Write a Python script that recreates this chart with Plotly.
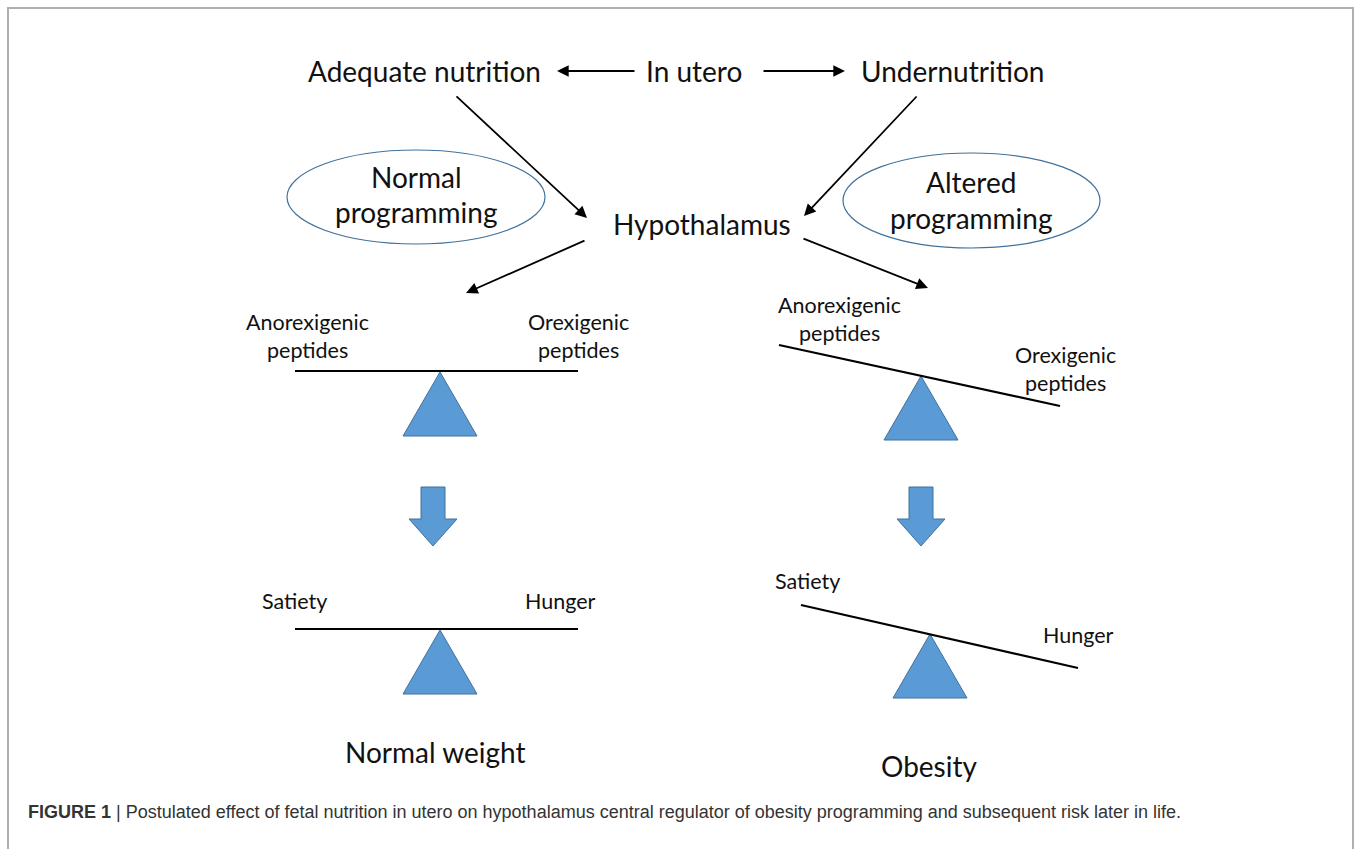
import plotly.graph_objects as go

# ---- content ----
top_labels = ["Adequate nutrition", "In utero", "Undernutrition"]
center_label = "Hypothalamus"
programming_labels = [["Normal", "programming"], ["Altered", "programming"]]
peptide_labels = [["Anorexigenic", "peptides"], ["Orexigenic", "peptides"]]
feeling_labels = ["Satiety", "Hunger"]
outcome_labels = ["Normal weight", "Obesity"]
caption_bold = "FIGURE 1"
caption_text = " | Postulated effect of fetal nutrition in utero on hypothalamus central regulator of obesity programming and subsequent risk later in life."

# ---- layout geometry (pixel canvas) ----
W, H = 1356, 849
pos_top = [(424, 71), (694, 71), (952, 71)]
pos_center = (702, 224)
pos_ellipse = [(287, 150, 545, 244), (843, 153, 1100, 248)]
pos_prog = [[(416, 177), (416, 212)], [(971, 182), (971, 218)]]
# beams: (x0,y0,x1,y1), fulcrum apex
beams_upper = [((295, 371, 578, 371), (440, 372)), ((779, 345, 1060, 406), (921, 376))]
beams_lower = [((295, 629, 578, 629), (440, 630)), ((801, 605, 1078, 668), (930, 634))]
peptide_pos = [[[(307, 322), (307, 350)], [(578, 322), (578, 350)]],
               [[(839, 305), (839, 333)], [(1065, 355), (1065, 383)]]]
feeling_pos = [[(294, 601), (560, 601)], [(807, 581), (1078, 635)]]
outcome_pos = [(435, 752), (929, 766)]
down_arrows_x = [433, 921]

BLUE = "#5b9bd5"
BLUE_EDGE = "#41719c"
FONT = "Lato"
BIG = 28
SMALL = 21.5

fig = go.Figure()
shapes = []
ann = []

def text(x, y, s, size, **kw):
    ann.append(dict(x=x, y=y, text=s, showarrow=False, xref="x", yref="y",
                    font=dict(family=FONT, size=size, color="#111"), **kw))

def arrow(x0, y0, x1, y1):
    ann.append(dict(x=x1, y=y1, ax=x0, ay=y0, xref="x", yref="y", axref="x", ayref="y",
                    text="", showarrow=True, arrowhead=2, arrowsize=1.3, arrowwidth=1.8,
                    arrowcolor="#000", standoff=0, startstandoff=0))

# border
shapes.append(dict(type="rect", x0=8, y0=8, x1=1353, y1=900, line=dict(color="#b0b0b0", width=2)))

# top row
for (x, y), s in zip(pos_top, top_labels):
    text(x, y, s, BIG)
arrow(636, 71, 557, 71)
arrow(762, 71, 845, 71)
arrow(455, 95, 587, 218)
arrow(918, 95, 804, 216)
text(*pos_center, center_label, BIG)
arrow(586, 240, 466, 293)
arrow(802, 238, 928, 288)

# ellipses
for (x0, y0, x1, y1), ps, ss in zip(pos_ellipse, pos_prog, programming_labels):
    shapes.append(dict(type="circle", x0=x0, y0=y0, x1=x1, y1=y1, line=dict(color=BLUE_EDGE, width=1.2)))
    for (px, py), s in zip(ps, ss):
        text(px, py, s, BIG)

def beam(b):
    (x0, y0, x1, y1), (ax_, ay_) = b
    shapes.append(dict(type="line", x0=x0, y0=y0, x1=x1, y1=y1, line=dict(color="#000", width=2.2)))
    fig.add_trace(go.Scatter(x=[ax_, ax_ - 37, ax_ + 37, ax_], y=[ay_, ay_ + 64, ay_ + 64, ay_],
                             fill="toself", fillcolor=BLUE, mode="lines",
                             line=dict(color=BLUE_EDGE, width=1), hoverinfo="skip", showlegend=False))

for b in beams_upper + beams_lower:
    beam(b)

for side in range(2):
    for group, ss in zip(peptide_pos[side], peptide_labels):
        for (x, y), s in zip(group, ss):
            text(x, y, s, SMALL)
    for (x, y), s in zip(feeling_pos[side], feeling_labels):
        text(x, y, s, SMALL)
    text(*outcome_pos[side], outcome_labels[side], BIG)
    cx = down_arrows_x[side]
    fig.add_trace(go.Scatter(
        x=[cx - 12, cx + 12, cx + 12, cx + 24, cx, cx - 24, cx - 12, cx - 12],
        y=[487, 487, 519, 519, 546, 519, 519, 487],
        fill="toself", fillcolor=BLUE, mode="lines",
        line=dict(color=BLUE_EDGE, width=1), hoverinfo="skip", showlegend=False))

# caption
ann.append(dict(x=26, y=812, xanchor="left", showarrow=False, xref="x", yref="y",
                text="<b>" + caption_bold + "</b>" + caption_text,
                font=dict(family="Liberation Sans, Arial", size=18, color="#333")))

fig.update_layout(
    width=W, height=H, margin=dict(l=0, r=0, t=0, b=0),
    paper_bgcolor="white", plot_bgcolor="white",
    xaxis=dict(range=[0, W], visible=False, fixedrange=True),
    yaxis=dict(range=[H, 0], visible=False, fixedrange=True),
    shapes=shapes, annotations=ann, showlegend=False,
)
fig.write_html("out.html", config={"displayModeBar": False},
               post_script="document.body.style.margin='0';document.body.style.overflow='hidden';")
